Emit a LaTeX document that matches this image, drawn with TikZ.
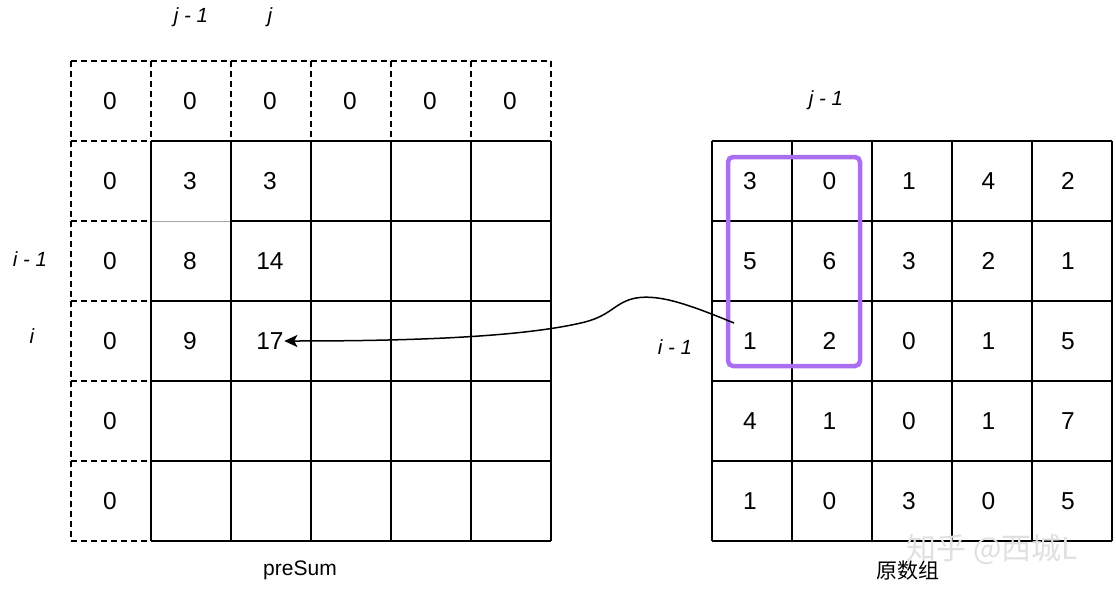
\documentclass[tikz,border=0pt]{standalone}
\usepackage{fontspec}
\setmainfont{Liberation Sans}
\newfontfamily\cjk{Noto Sans CJK SC}
\usetikzlibrary{arrows.meta}
\definecolor{selpurple}{RGB}{170,110,240}
\begin{document}
\begin{tikzpicture}[x=1pt,y=-1pt,
  gridline/.style={line width=1.9pt,black},
  dashline/.style={line width=1.9pt,black,dash pattern=on 6pt off 4pt},
  num/.style={font=\fontsize{24.5}{28}\selectfont,inner sep=0.5pt},
  idx/.style={font=\fontsize{20.5}{24}\selectfont\itshape,inner sep=1pt},
  caption/.style={font=\fontsize{21}{25}\selectfont,inner sep=1pt},
  selbox/.style={draw=selpurple,line width=4.5pt,rounded corners=5pt},
  arr/.style={line width=1.5pt,-{Stealth[length=13pt,width=12pt,inset=3pt]}}]
\useasboundingbox (0,0) rectangle (1116,602);
\fill[white] (0,0) rectangle (1116,602);

% ---------- left grid (preSum) ----------
% dashed top row and left column
\draw[dashline] (71,61) -- (551,61);
\foreach \x in {151,231,311,391,471,551} \draw[dashline] (\x,61) -- (\x,141);
\draw[dashline] (71,61) -- (71,541);
\foreach \y in {141,221,301,381,461,541} \draw[dashline] (71,\y) -- (151,\y);
% solid inner grid
\draw[gray!70,line width=1pt] (151,221) -- (231,221);
\draw[gridline] (151,141) -- (551,141);
\draw[gridline] (231,221) -- (551,221);
\foreach \y in {301,381,461,541} \draw[gridline] (151,\y) -- (551,\y);
\foreach \x in {151,231,311,391,471,551} \draw[gridline] (\x,141) -- (\x,541);

% left values
\foreach \r/\c/\v in {0/0/0,0/1/0,0/2/0,0/3/0,0/4/0,0/5/0,
                      1/0/0,1/1/3,1/2/3,
                      2/0/0,2/1/8,2/2/14,
                      3/0/0,3/1/9,3/2/17,
                      4/0/0,5/0/0}
  \node[num] (L\r\c) at ({110+80*\c},{101+80*\r}) {\v};

% left indices
\node[idx] (lj1) at (191,17) {j - 1};
\node[idx] (lj) at (270,17) {j};
\node[idx] (li1) at (30,259) {i - 1};
\node[idx] (li) at (32,336) {i};
\node[caption] (cap1) at (300,570) {preSum};

% ---------- right grid (original array) ----------
\foreach \y in {141,221,301,381,461,541} \draw[gridline] (712,\y) -- (1112,\y);
\foreach \x in {712,792,872,952,1032,1112} \draw[gridline] (\x,141) -- (\x,541);

\foreach \r/\row in {0/{3,0,1,4,2},1/{5,6,3,2,1},2/{1,2,0,1,5},3/{4,1,0,1,7},4/{1,0,3,0,5}}{
  \foreach \v [count=\c from 0] in \row
    \node[num] (R\r\c) at ({750+79.5*\c},{181+80*\r}) {\v};
}

\node[idx] (rj1) at (826,100) {j - 1};
\node[idx] (ri1) at (675,347) {i - 1};
\node[caption] (cap2) at (908,571) {\cjk 原数组};

% selection box
\draw[selbox] (728,157) rectangle (860,366);

% connector
\coordinate (astart) at (734,323);
\draw[arr] (astart) .. controls (690,305) and (660,294) .. (636,298)
  .. controls (615,302) and (612,315) .. (585,322)
  .. controls (520,338) and (400,341) .. (L32.east);

% watermark
\node[font=\fontsize{30}{34}\selectfont\cjk,text=black!12,inner sep=0] (wm) at (992,549) {知乎 @西城L};
\end{tikzpicture}
\end{document}
